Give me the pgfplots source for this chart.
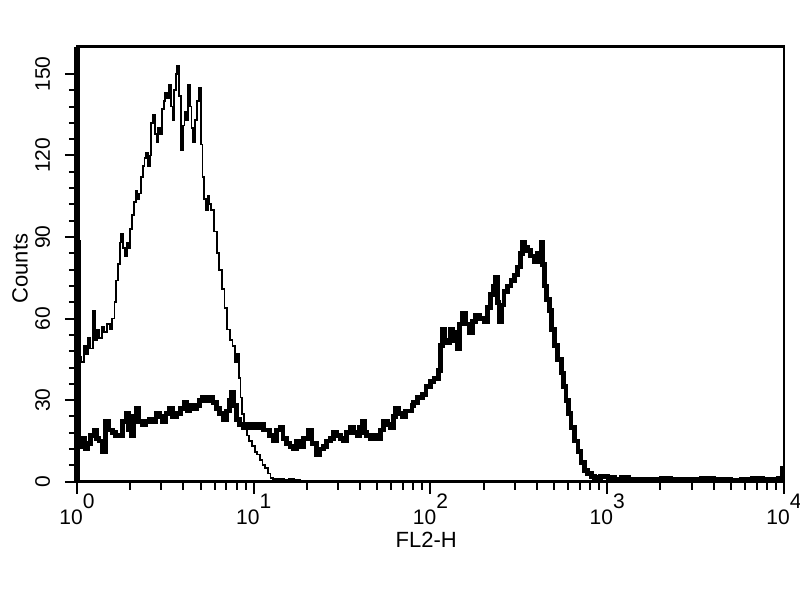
\documentclass[border=0pt]{standalone}
\usepackage{fontspec}
\setmainfont{Liberation Sans}
\usepackage{pgfplots}
\pgfplotsset{compat=1.18}
\usepackage{pgfplotstable}

% x is log10 of the FL2-H channel value
\pgfplotstableread{
lx count
0.000 40
0.012 46
0.025 44
0.038 50
0.050 47
0.062 53
0.075 49
0.090 63
0.100 52
0.112 56
0.125 53
0.140 57
0.155 55
0.170 58
0.185 56
0.200 60
0.212 66
0.222 74
0.232 80
0.242 88
0.250 91
0.262 86
0.272 83
0.282 88
0.292 86
0.302 93
0.312 98
0.322 103
0.332 107
0.342 104
0.352 106
0.362 112
0.372 116
0.382 119
0.392 121
0.402 116
0.412 120
0.420 132
0.430 135
0.440 128
0.450 125
0.460 130
0.470 128
0.480 137
0.490 140
0.500 143
0.510 141
0.520 146
0.530 138
0.540 133
0.550 144
0.560 150
0.568 153
0.578 142
0.588 122
0.598 131
0.608 136
0.618 133
0.628 146
0.638 138
0.648 130
0.658 125
0.668 133
0.678 140
0.690 145
0.700 124
0.710 112
0.720 104
0.730 100
0.740 105
0.750 102
0.760 100
0.775 92
0.790 84
0.805 78
0.820 71
0.835 64
0.850 56
0.865 52
0.880 50
0.895 44
0.905 47
0.915 38
0.925 31
0.935 25
0.945 20
0.960 17
0.975 15
0.990 13
1.005 11
1.020 10
1.035 8
1.050 6
1.065 5
1.080 3
1.095 1.5
1.110 1
1.140 1
1.170 0.5
1.200 1
1.230 0.5
1.260 0
4.000 0
}\control

\pgfplotstableread{
lx count
0.000 88
0.008 15
0.020 13
0.030 16
0.045 12
0.059 14
0.075 17
0.097 19
0.110 16
0.125 15
0.144 11
0.163 22
0.180 19
0.201 18
0.220 17
0.239 17
0.258 22
0.277 25
0.290 19
0.305 17
0.320 24
0.334 27
0.350 22
0.371 21
0.390 22
0.409 23
0.428 22
0.447 25
0.466 24
0.485 22
0.504 25
0.523 27
0.542 24
0.561 25
0.585 27
0.608 29
0.622 26
0.636 28
0.655 27
0.674 28
0.693 30
0.712 31
0.731 30
0.750 31
0.769 29
0.788 27
0.807 25
0.826 23
0.845 26
0.862 30
0.873 33
0.885 28
0.902 23
0.920 21
0.939 20
0.958 21
0.977 20
0.996 21
1.015 20
1.035 21
1.053 19
1.072 19
1.090 17
1.110 15
1.130 19
1.148 20
1.165 16
1.186 14
1.205 13
1.223 12
1.242 15
1.261 13
1.280 16
1.309 19
1.330 14
1.356 10
1.375 12
1.394 13
1.413 15
1.432 16
1.450 18
1.470 17
1.490 16
1.507 15
1.525 18
1.545 20
1.565 18
1.584 17
1.600 20
1.612 22
1.626 18
1.640 17
1.660 16
1.680 17
1.697 16
1.715 19
1.735 22
1.755 21
1.773 20
1.790 24
1.801 27
1.820 25
1.839 24
1.858 26
1.877 26
1.895 28
1.905 29
1.925 31
1.953 32
1.975 35
2.000 37
2.020 38
2.047 41
2.058 50
2.066 56
2.080 52
2.095 51
2.110 56
2.123 55
2.138 52
2.152 49
2.166 58
2.180 62
2.200 58
2.218 55
2.237 59
2.256 61
2.280 60
2.303 59
2.322 64
2.341 69
2.355 72
2.369 75
2.380 66
2.388 59
2.400 65
2.416 70
2.435 72
2.455 74
2.475 76
2.493 79
2.507 84
2.521 88
2.535 86
2.549 85
2.565 83
2.587 81
2.605 84
2.625 88
2.635 80
2.644 72
2.658 67
2.672 63
2.686 56
2.701 50
2.720 45
2.739 40
2.753 35
2.767 30
2.781 25
2.795 20
2.815 15
2.834 11
2.852 7
2.871 4
2.890 3
2.910 2
2.928 1.5
2.960 2
3.004 1.5
3.040 1
3.080 1.5
3.120 1
3.153 0.8
3.200 1
3.250 0.7
3.307 1.2
3.360 0.8
3.420 1.0
3.480 0.7
3.534 1.2
3.600 0.8
3.650 1.0
3.700 0.6
3.761 0.9
3.820 1.1
3.880 0.7
3.930 1.0
3.970 1.2
3.990 5
4.000 5
}\stained

\begin{document}
\begin{tikzpicture}
\path[use as bounding box] (-38.5pt,-59.15pt) rectangle (361.5pt,240.85pt);
\begin{axis}[
    at={(0,0)}, anchor=south west,
    scale only axis,
    width=353.5pt,
    height=217.5pt,
    xmin=0, xmax=4,
    ymin=0, ymax=160,
    /pgf/number format/assume math mode=true,
    xtick={0,1,2,3,4},
    xticklabels={10\raisebox{8pt}{0},10\raisebox{8pt}{1},10\raisebox{8pt}{2},10\raisebox{8pt}{3},10\raisebox{8pt}{4}},
    minor xtick={0.301,0.477,0.602,0.699,0.778,0.845,0.903,0.954,
                 1.301,1.477,1.602,1.699,1.778,1.845,1.903,1.954,
                 2.301,2.477,2.602,2.699,2.778,2.845,2.903,2.954,
                 3.301,3.477,3.602,3.699,3.778,3.845,3.903,3.954},
    ytick={0,30,60,90,120,150},
    minor y tick num=4,
    tick pos=left,
    tick align=outside,
    major tick length=6pt,
    minor tick length=4pt,
    every tick/.style={black, line width=1pt},
    axis line style={black, line width=1.3pt},
    ticklabel style={font=\fontsize{10.5}{12}\selectfont},
    xticklabel style={anchor=base, yshift=-15.6pt},
    yticklabel style={rotate=90, anchor=base, yshift=7.5pt},
    label style={font=\fontsize{11}{13}\selectfont},
    xlabel={FL2-H},
    xlabel style={at={(axis description cs:0.494,0)}, anchor=center, yshift=-29pt},
    ylabel={Counts},
    ylabel style={at={(axis description cs:0,0.49)}, anchor=center, yshift=28.5pt},
    clip=true,
    after end axis/.code={
        \draw[line width=2.6pt] (rel axis cs:0,0) -- (rel axis cs:0,1);
    },
]
\addplot[const plot, black, line width=0.9pt] table[x=lx, y=count] {\control};
\addplot[const plot, black, line width=2.4pt] table[x=lx, y=count] {\stained};
\end{axis}
\end{tikzpicture}
\end{document}
